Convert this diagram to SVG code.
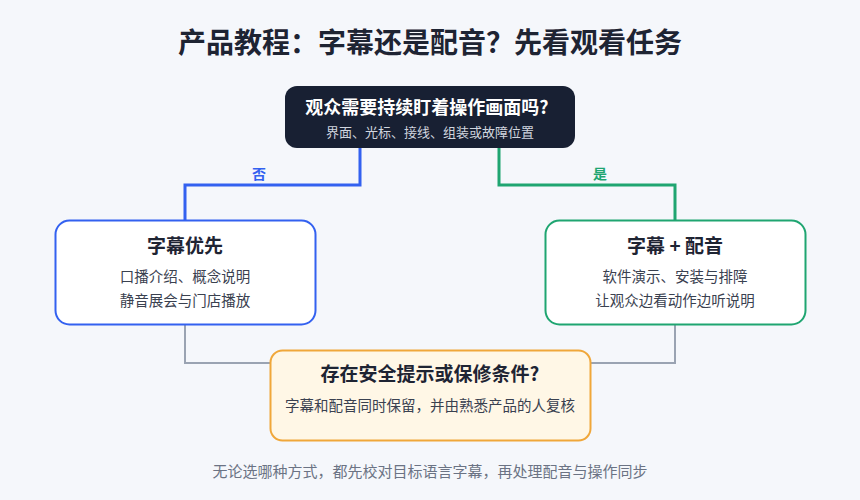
<svg xmlns="http://www.w3.org/2000/svg" width="860" height="500" viewBox="0 0 860 500">
<style>
text{font-family:"Noto Sans CJK SC","Noto Sans",sans-serif;text-anchor:middle}
.t{font-size:19px;font-weight:700;fill:#1e2433}
.s{font-size:14.5px;fill:#3a4150}
.c{fill:none;stroke-width:3}
</style>
<rect width="860" height="500" fill="#f5f7fb"/>
<text x="430" y="53" font-size="28" font-weight="700" fill="#1e2433">产品教程：字幕还是配音？先看观看任务</text>
<g id="connectors">
<path class="c" stroke="#3361f0" d="M360 148V185H185V220"/>
<path class="c" stroke="#1fa571" d="M499 148V185H675V220"/>
<path fill="none" stroke="#9aa3b2" stroke-width="2" d="M185 325V363H270M675 325V363H590"/>
<text x="259" y="179" font-size="14" font-weight="700" fill="#3361f0">否</text>
<text x="600" y="179" font-size="14" font-weight="700" fill="#1fa571">是</text>
</g>
<g id="q1">
<rect x="285" y="86" width="290" height="62" rx="12" fill="#182033"/>
<text x="427" y="114" font-size="18" font-weight="700" fill="#fff">观众需要持续盯着操作画面吗?</text>
<text x="430" y="137" font-size="13" fill="#d0d5df">界面、光标、接线、组装或故障位置</text>
</g>
<g id="sub">
<rect x="55.5" y="220.5" width="260" height="104" rx="14" fill="#fff" stroke="#3361f0" stroke-width="2"/>
<text class="t" x="185" y="253">字幕优先</text>
<text class="s" x="185" y="282">口播介绍、概念说明</text>
<text class="s" x="185" y="306">静音展会与门店播放</text>
</g>
<g id="dub">
<rect x="545.5" y="220.5" width="260" height="104" rx="14" fill="#fff" stroke="#1fa571" stroke-width="2"/>
<text class="t" x="675" y="253">字幕 + 配音</text>
<text class="s" x="675" y="282">软件演示、安装与排障</text>
<text class="s" x="675" y="306">让观众边看动作边听说明</text>
</g>
<g id="safety">
<rect x="270.5" y="350.5" width="320" height="90" rx="12" fill="#fff7e6" stroke="#f0a73a" stroke-width="2"/>
<text class="t" x="430" y="381">存在安全提示或保修条件?</text>
<text class="s" x="430" y="411">字幕和配音同时保留，并由熟悉产品的人复核</text>
</g>
<text x="430" y="477" font-size="15" fill="#6b7384">无论选哪种方式，都先校对目标语言字幕，再处理配音与操作同步</text>
</svg>
